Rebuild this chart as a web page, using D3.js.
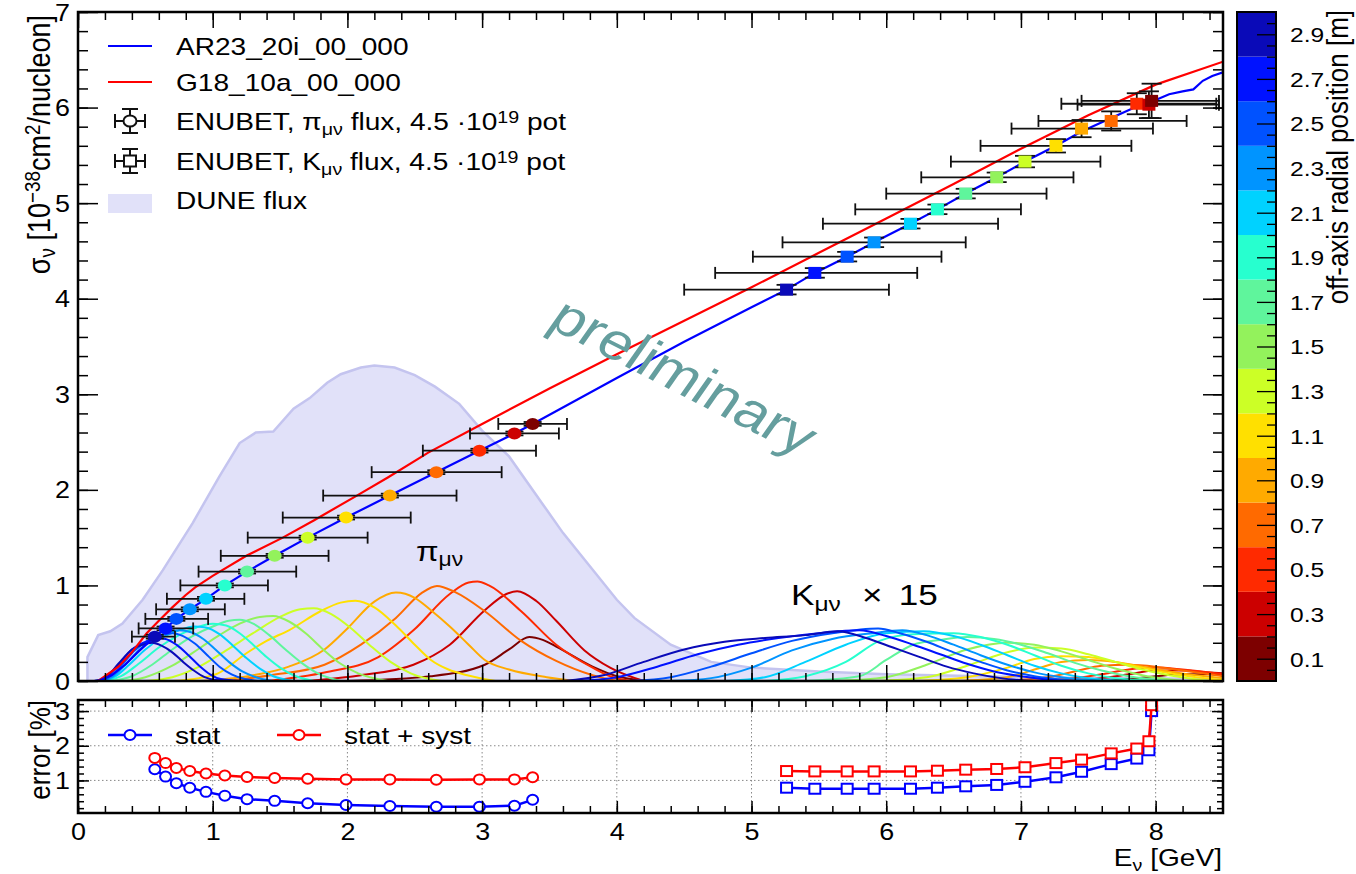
<!DOCTYPE html>
<html><head><meta charset="utf-8">
<script src="https://cdn.jsdelivr.net/npm/d3@7"></script>
<style>
html,body{margin:0;padding:0;background:#fff;}
svg{display:block;font-family:"Liberation Sans",Arial,Helvetica,sans-serif;}
</style></head><body>
<svg id="chart" width="1356" height="874"></svg>
<script>
// ---------- data ----------
// off-axis radial position bins [m] and their palette colours
const radialBins = [0.1,0.3,0.5,0.7,0.9,1.1,1.3,1.5,1.7,1.9,2.1,2.3,2.5,2.7,2.9];
const radialColors = ["#7d0000","#cc0000","#ff2a00","#ff6a00","#ffaa00","#ffe000","#ccff26",
  "#93f25c","#5ff59c","#27ffcf","#00d2ff","#0094ff","#0052ff","#0012ff","#0a0ab8"];

// ENUBET pi_mu_nu points (one per radial bin, outermost first)
const piRadial = [2.9,2.7,2.5,2.3,2.1,1.9,1.7,1.5,1.3,1.1,0.9,0.7,0.5,0.3,0.1];
const piE     = [0.57,0.65,0.73,0.83,0.95,1.09,1.255,1.46,1.705,1.99,2.315,2.66,2.98,3.24,3.375];
const piSigma = [0.464,0.55,0.65,0.75,0.86,1.0,1.145,1.31,1.50,1.71,1.94,2.185,2.41,2.59,2.69];
const piElo   = [0.40,0.45,0.50,0.58,0.66,0.76,0.895,1.06,1.26,1.52,1.82,2.18,2.56,2.91,3.12];
const piEhi   = [0.72,0.855,0.966,1.09,1.235,1.41,1.62,1.86,2.15,2.47,2.81,3.145,3.40,3.57,3.63];
const piSigErr= [0.02,0.02,0.02,0.02,0.02,0.02,0.02,0.02,0.02,0.02,0.02,0.02,0.02,0.02,0.02];
const piStatErr = [1.32,1.11,0.92,0.79,0.67,0.56,0.46,0.41,0.34,0.29,0.26,0.24,0.24,0.27,0.44];
const piTotErr  = [1.65,1.50,1.36,1.27,1.20,1.14,1.10,1.07,1.05,1.03,1.03,1.02,1.03,1.03,1.09];

// ENUBET K_mu_nu points
const kRadial = [2.9,2.7,2.5,2.3,2.1,1.9,1.7,1.5,1.3,1.1,0.9,0.7,0.5,0.3,0.1];
const kE     = [5.26,5.47,5.71,5.91,6.18,6.38,6.59,6.82,7.03,7.26,7.45,7.67,7.86,7.95,7.97];
const kSigma = [4.095,4.27,4.44,4.59,4.785,4.935,5.10,5.27,5.435,5.60,5.78,5.86,6.04,6.03,6.07];
const kElo   = [4.50,4.73,5.01,5.23,5.53,5.77,6.00,6.26,6.48,6.70,6.93,7.13,7.30,7.42,7.45];
const kEhi   = [6.02,6.23,6.41,6.59,6.83,7.00,7.19,7.39,7.59,7.82,7.98,8.23,8.45,8.47,8.47];
const kSigErr= [0.05,0.05,0.05,0.05,0.05,0.05,0.05,0.05,0.06,0.07,0.09,0.10,0.11,0.14,0.18];
const kStatErr = [0.79,0.76,0.76,0.76,0.76,0.79,0.83,0.87,0.96,1.09,1.25,1.47,1.63,1.87,3.00];
const kTotErr  = [1.27,1.26,1.26,1.26,1.26,1.28,1.31,1.33,1.38,1.50,1.60,1.78,1.92,2.13,3.17];

// GENIE cross-section models [E (GeV), sigma]
const ar23 = [[0.15,0],[0.25,0.06],[0.35,0.17],[0.45,0.31],[0.57,0.464],[0.65,0.55],[0.73,0.65],
  [0.83,0.75],[0.95,0.86],[1.09,1.0],[1.255,1.145],[1.46,1.31],[1.705,1.5],[1.99,1.71],[2.315,1.94],
  [2.66,2.185],[2.98,2.41],[3.24,2.59],[3.375,2.69],[4.0,3.17],[4.5,3.55],[5.0,3.91],[5.26,4.095],
  [5.47,4.27],[5.71,4.44],[5.91,4.59],[6.18,4.785],[6.38,4.935],[6.59,5.10],[6.82,5.27],[7.03,5.435],
  [7.26,5.60],[7.45,5.75],[7.67,5.89],[7.86,6.01],[8.0,6.08],[8.1,6.14],[8.2,6.17],[8.28,6.19],
  [8.35,6.28],[8.42,6.33],[8.5,6.37]];
const g18 = [[0.15,0],[0.3,0.15],[0.4,0.3],[0.51,0.5],[0.6,0.63],[0.7,0.77],[0.8,0.9],[0.87,0.98],
  [1.0,1.1],[1.25,1.31],[1.52,1.5],[1.75,1.68],[2.07,1.94],[2.3,2.13],[2.6,2.39],[3.0,2.69],[3.5,3.06],
  [4.0,3.42],[4.5,3.77],[5.0,4.12],[5.5,4.48],[6.0,4.84],[6.5,5.2],[7.0,5.57],[7.5,5.92],[8.0,6.24],[8.5,6.48]];

// DUNE flux shape (arbitrary normalisation)
const duneFlux = [[0.07,0],[0.07,0.25],[0.15,0.48],[0.24,0.52],[0.33,0.6],[0.48,0.85],[0.63,1.16],
  [0.85,1.65],[1.05,2.14],[1.2,2.49],[1.32,2.6],[1.45,2.61],[1.6,2.85],[1.72,2.96],[1.85,3.12],
  [1.95,3.21],[2.1,3.28],[2.2,3.30],[2.35,3.28],[2.5,3.2],[2.65,3.08],[2.83,2.9],[3.0,2.62],[3.2,2.35],
  [3.45,1.85],[3.6,1.55],[3.8,1.2],[4.0,0.85],[4.13,0.66],[4.4,0.38],[4.7,0.2],[5.0,0.14],[5.5,0.1],
  [6.0,0.07],[7.0,0.04],[8.5,0.02],[8.5,0]];

// pi_mu_nu flux per radial bin (0.1 m ... 2.9 m)
const pionFlux = [
  [[2.0,0],[2.62,0.05],[3.02,0.17],[3.2,0.33],[3.35,0.46],[3.45,0.43],[3.55,0.36],[3.82,0.15],[4.0,0.05],[4.25,0]],
  [[1.7,0],[2.1,0.06],[2.49,0.17],[2.76,0.38],[3.02,0.74],[3.18,0.91],[3.26,0.94],[3.4,0.84],[3.55,0.63],[3.76,0.32],[3.95,0.14],[4.2,0]],
  [[1.4,0],[1.83,0.09],[2.23,0.25],[2.49,0.53],[2.76,0.91],[2.9,1.03],[2.965,1.04],[3.05,1.0],[3.29,0.73],[3.55,0.38],[3.82,0.14],[3.95,0.05],[4.1,0]],
  [[1.1,0],[1.43,0.06],[1.83,0.17],[2.1,0.38],[2.36,0.66],[2.55,0.92],[2.665,0.995],[2.8,0.93],[3.02,0.73],[3.29,0.42],[3.55,0.21],[3.82,0.06],[4.0,0]],
  [[0.9,0],[1.26,0.05],[1.565,0.15],[1.83,0.33],[2.0,0.55],[2.2,0.83],[2.36,0.925],[2.5,0.87],[2.62,0.74],[2.76,0.57],[2.9,0.38],[3.02,0.22],[3.2,0.12],[3.48,0.04],[3.7,0]],
  [[0.7,0],[0.9,0.03],[1.04,0.08],[1.25,0.29],[1.4,0.42],[1.565,0.53],[1.8,0.73],[1.95,0.82],[2.06,0.84],[2.2,0.77],[2.36,0.58],[2.5,0.38],[2.62,0.22],[2.75,0.12],[2.89,0.06],[3.1,0]],
  [[0.5,0],[0.7,0.04],[0.9,0.15],[1.1,0.32],[1.3,0.5],[1.5,0.67],[1.65,0.75],[1.75,0.76],[1.88,0.7],[2.02,0.56],[2.17,0.37],[2.32,0.2],[2.47,0.08],[2.7,0]],
  [[0.35,0],[0.5,0.04],[0.7,0.16],[0.9,0.34],[1.05,0.48],[1.2,0.6],[1.35,0.67],[1.45,0.68],[1.57,0.62],[1.69,0.5],[1.82,0.33],[1.95,0.18],[2.08,0.08],[2.3,0]],
  [[0.25,0],[0.4,0.05],[0.55,0.17],[0.7,0.33],[0.85,0.47],[1.0,0.57],[1.12,0.63],[1.2,0.64],[1.3,0.6],[1.42,0.48],[1.54,0.33],[1.66,0.19],[1.78,0.08],[1.95,0]],
  [[0.2,0],[0.32,0.05],[0.45,0.18],[0.6,0.35],[0.75,0.48],[0.88,0.56],[1.0,0.6],[1.1,0.58],[1.2,0.5],[1.3,0.38],[1.4,0.25],[1.5,0.14],[1.6,0.06],[1.75,0]],
  [[0.18,0],[0.28,0.05],[0.38,0.17],[0.5,0.33],[0.62,0.45],[0.75,0.53],[0.86,0.57],[0.95,0.56],[1.05,0.49],[1.15,0.37],[1.25,0.24],[1.35,0.13],[1.45,0.05],[1.6,0]],
  [[0.16,0],[0.25,0.04],[0.35,0.17],[0.45,0.32],[0.55,0.43],[0.65,0.5],[0.75,0.53],[0.84,0.51],[0.93,0.44],[1.02,0.33],[1.12,0.2],[1.22,0.1],[1.32,0.04],[1.45,0]],
  [[0.14,0],[0.22,0.03],[0.32,0.16],[0.42,0.32],[0.52,0.42],[0.62,0.48],[0.7,0.5],[0.78,0.47],[0.87,0.39],[0.96,0.27],[1.05,0.15],[1.14,0.07],[1.24,0.02],[1.35,0]],
  [[0.12,0],[0.2,0.03],[0.3,0.17],[0.4,0.33],[0.5,0.41],[0.58,0.45],[0.65,0.44],[0.73,0.38],[0.82,0.27],[0.9,0.16],[0.98,0.07],[1.06,0.02],[1.2,0]],
  [[0.12,0],[0.2,0.03],[0.3,0.18],[0.4,0.33],[0.48,0.38],[0.55,0.4],[0.62,0.37],[0.7,0.3],[0.78,0.2],[0.86,0.11],[0.94,0.04],[1.02,0.01],[1.15,0]]
];

// K_mu_nu flux per radial bin (scaled x15), 0.1 m ... 2.9 m
const kaonFlux = [
  [[7.4,0],[7.8,0.02],[8.0,0.05],[8.2,0.07],[8.4,0.07],[8.5,0.06]],
  [[7.2,0],[7.6,0.03],[7.8,0.07],[8.0,0.11],[8.2,0.11],[8.4,0.09],[8.5,0.08]],
  [[7.0,0],[7.4,0.03],[7.6,0.07],[7.8,0.12],[8.0,0.14],[8.2,0.12],[8.4,0.09],[8.5,0.07]],
  [[6.8,0],[7.2,0.04],[7.4,0.1],[7.6,0.16],[7.8,0.17],[8.0,0.15],[8.2,0.11],[8.4,0.07],[8.5,0.05]],
  [[6.5,0],[6.9,0.04],[7.1,0.12],[7.3,0.2],[7.5,0.22],[7.7,0.2],[7.9,0.15],[8.1,0.1],[8.3,0.06],[8.5,0.03]],
  [[6.2,0],[6.6,0.04],[6.9,0.14],[7.1,0.23],[7.3,0.26],[7.5,0.25],[7.7,0.2],[7.9,0.14],[8.1,0.08],[8.3,0.04],[8.5,0.01]],
  [[5.9,0],[6.3,0.04],[6.6,0.16],[6.9,0.3],[7.1,0.35],[7.3,0.34],[7.5,0.28],[7.7,0.2],[7.9,0.12],[8.1,0.06],[8.4,0]],
  [[5.6,0],[6.0,0.04],[6.3,0.17],[6.6,0.33],[6.9,0.4],[7.1,0.38],[7.3,0.31],[7.5,0.22],[7.7,0.13],[7.9,0.06],[8.2,0]],
  [[5.4,0],[5.8,0.05],[6.0,0.22],[6.2,0.38],[6.4,0.43],[6.6,0.46],[6.8,0.44],[7.0,0.38],[7.2,0.29],[7.4,0.19],[7.6,0.11],[7.8,0.05],[8.1,0]],
  [[5.1,0],[5.4,0.05],[5.7,0.2],[5.95,0.42],[6.2,0.49],[6.5,0.5],[6.7,0.46],[6.9,0.38],[7.1,0.27],[7.3,0.16],[7.5,0.08],[7.7,0.03],[8.0,0]],
  [[4.8,0],[5.1,0.04],[5.4,0.2],[5.7,0.38],[6.0,0.5],[6.28,0.52],[6.5,0.47],[6.7,0.38],[6.9,0.27],[7.1,0.16],[7.3,0.08],[7.5,0.03],[7.8,0]],
  [[4.4,0],[4.7,0.03],[5.0,0.14],[5.3,0.32],[5.6,0.44],[5.9,0.5],[6.12,0.53],[6.3,0.48],[6.5,0.38],[6.7,0.27],[6.9,0.17],[7.1,0.09],[7.3,0.04],[7.6,0]],
  [[4.1,0],[4.4,0.04],[4.7,0.15],[5.0,0.29],[5.3,0.42],[5.6,0.5],[5.94,0.55],[6.1,0.5],[6.3,0.41],[6.5,0.3],[6.7,0.2],[6.9,0.11],[7.1,0.05],[7.4,0]],
  [[3.7,0],[4.0,0.04],[4.3,0.15],[4.6,0.28],[4.9,0.38],[5.2,0.45],[5.5,0.5],[5.8,0.53],[6.0,0.47],[6.2,0.38],[6.4,0.28],[6.6,0.18],[6.8,0.1],[7.0,0.05],[7.3,0]],
  [[3.6,0],[3.9,0.06],[4.2,0.2],[4.5,0.33],[4.8,0.41],[5.1,0.45],[5.4,0.48],[5.64,0.52],[5.85,0.45],[6.05,0.35],[6.25,0.25],[6.45,0.15],[6.65,0.08],[6.85,0.03],[7.1,0]]
];

const xTicksMajor = [0,1,2,3,4,5,6,7,8];
const yTicksMain = [0,1,2,3,4,5,6,7];
const yTicksRatio = [1,2,3];

// ---------- layout ----------
const SX = 1.17;               // horizontal glyph stretch used by all text
const svg = d3.select("#chart");
const L = 78, R = 1223, T = 12, B = 681, BT = 700, BB = 813;
const x  = d3.scaleLinear([0, 8.5], [L, R]);
const y  = d3.scaleLinear([0, 7], [B, T]);
const yb = d3.scaleLinear([0.06, 3.32], [BB, BT]);
const z  = d3.scaleLinear([0, 3], [B, T]);
const zColor = d3.scaleQuantize([0, 3], radialColors);
const range = (a, b, s) => d3.range(Math.round((b - a) / s) + 1).map(i => +(a + i * s).toFixed(4));

function label(parent, px, py, opts = {}) {
  const t = parent.append("text")
    .attr("transform", `translate(${px},${py}) scale(${SX},1)` + (opts.rotate ? ` rotate(${opts.rotate})` : ""))
    .attr("font-size", opts.size || 23)
    .attr("text-anchor", opts.anchor || "start")
    .attr("fill", opts.fill || "#000");
  return t;
}
function richText(t, parts) {
  parts.forEach(p => {
    const s = t.append("tspan").text(p.t);
    if (p.sub) s.attr("font-size", "70%").attr("baseline-shift", "-25%");
    if (p.sup) s.attr("font-size", "70%").attr("baseline-shift", "45%");
    if (p.dx) s.attr("dx", p.dx);
  });
  return t;
}

const defs = svg.append("defs");
defs.append("clipPath").attr("id", "clipMain").append("rect")
  .attr("x", L).attr("y", T).attr("width", R - L).attr("height", B - T);
defs.append("clipPath").attr("id", "clipRatio").append("rect")
  .attr("x", L).attr("y", BT).attr("width", R - L).attr("height", BB - BT);

// ---------- upper panel ----------
const main = svg.append("g").attr("clip-path", "url(#clipMain)");

const area = d3.area().x(d => x(d[0])).y0(y(0)).y1(d => y(d[1]));
main.append("path").datum(duneFlux).attr("d", area)
  .attr("fill", "#e1e1f9").attr("stroke", "#c4c4ef").attr("stroke-width", 2.5);

const fluxLine = d3.line().x(d => x(d[0])).y(d => y(d[1])).curve(d3.curveMonotoneX);
pionFlux.forEach((c, i) => main.append("path").datum(c).attr("d", fluxLine)
  .attr("fill", "none").attr("stroke", zColor(radialBins[i])).attr("stroke-width", 2));
kaonFlux.forEach((c, i) => main.append("path").datum(c).attr("d", fluxLine)
  .attr("fill", "none").attr("stroke", zColor(radialBins[i])).attr("stroke-width", 2));

const xsLine = d3.line().x(d => x(d[0])).y(d => y(d[1]));
main.append("path").datum(g18).attr("d", xsLine).attr("fill", "none").attr("stroke", "#ff0000").attr("stroke-width", 2.2);
main.append("path").datum(ar23).attr("d", xsLine).attr("fill", "none").attr("stroke", "#0000ff").attr("stroke-width", 2.2);

function errorBars(g, E, S, Elo, Ehi, Serr, capX, capY) {
  E.forEach((e, i) => {
    const cx = x(e), cy = y(S[i]);
    const gg = g.append("g").attr("stroke", "#111").attr("stroke-width", 1.8);
    gg.append("line").attr("x1", x(Elo[i])).attr("x2", x(Ehi[i])).attr("y1", cy).attr("y2", cy);
    gg.append("line").attr("x1", x(Elo[i])).attr("x2", x(Elo[i])).attr("y1", cy - capX).attr("y2", cy + capX);
    gg.append("line").attr("x1", x(Ehi[i])).attr("x2", x(Ehi[i])).attr("y1", cy - capX).attr("y2", cy + capX);
    const y1 = y(S[i] + Serr[i]), y2 = y(S[i] - Serr[i]);
    gg.append("line").attr("x1", cx).attr("x2", cx).attr("y1", y1).attr("y2", y2);
    gg.append("line").attr("x1", cx - capY).attr("x2", cx + capY).attr("y1", y1).attr("y2", y1);
    gg.append("line").attr("x1", cx - capY).attr("x2", cx + capY).attr("y1", y2).attr("y2", y2);
  });
}
const pts = svg.append("g").attr("clip-path", "url(#clipMain)");
errorBars(pts, piE, piSigma, piElo, piEhi, piSigErr, 6, 9);
pts.selectAll(".pim").data(piE).join("ellipse")
  .attr("cx", d => x(d)).attr("cy", (d, i) => y(piSigma[i]))
  .attr("rx", 7).attr("ry", 6).attr("fill", (d, i) => zColor(piRadial[i]));
errorBars(pts, kE, kSigma, kElo, kEhi, kSigErr, 6, 10);
pts.selectAll(".km").data(kE).join("rect")
  .attr("x", d => x(d) - 6.5).attr("y", (d, i) => y(kSigma[i]) - 6)
  .attr("width", 13).attr("height", 12).attr("fill", (d, i) => zColor(kRadial[i]));

// annotations
richText(label(svg, 416, 561, {size: 28}), [{t: "π"}, {t: "μν", sub: true}]);
richText(label(svg, 791, 605, {size: 30}),
  [{t: "K"}, {t: "μν", sub: true}, {t: "×", dx: 18}, {t: "15", dx: 14}]);
label(svg, 683, 378, {size: 52, anchor: "middle", rotate: 31, fill: "#659e9e"})
  .attr("dy", "0.3em").text("preliminary");

// legend
const lg = svg.append("g");
const legY = [46, 82, 121, 161, 204];
lg.append("line").attr("x1", 108).attr("x2", 152).attr("y1", legY[0]).attr("y2", legY[0]).attr("stroke", "#0000ff").attr("stroke-width", 2.2);
lg.append("line").attr("x1", 108).attr("x2", 152).attr("y1", legY[1]).attr("y2", legY[1]).attr("stroke", "#ff0000").attr("stroke-width", 2.2);
[2, 3].forEach(k => {
  const cy = legY[k], cx = 130;
  const g = lg.append("g").attr("stroke", "#111").attr("stroke-width", 2).attr("fill", "none");
  g.append("line").attr("x1", cx - 15).attr("x2", cx + 15).attr("y1", cy).attr("y2", cy);
  g.append("line").attr("x1", cx - 15).attr("x2", cx - 15).attr("y1", cy - 7).attr("y2", cy + 7);
  g.append("line").attr("x1", cx + 15).attr("x2", cx + 15).attr("y1", cy - 7).attr("y2", cy + 7);
  g.append("line").attr("x1", cx).attr("x2", cx).attr("y1", cy - 12).attr("y2", cy + 12);
  g.append("line").attr("x1", cx - 8).attr("x2", cx + 8).attr("y1", cy - 12).attr("y2", cy - 12);
  g.append("line").attr("x1", cx - 8).attr("x2", cx + 8).attr("y1", cy + 12).attr("y2", cy + 12);
  if (k === 2) g.append("ellipse").attr("cx", cx).attr("cy", cy).attr("rx", 6.5).attr("ry", 5.5).attr("fill", "#fff");
  else g.append("rect").attr("x", cx - 6).attr("y", cy - 5.5).attr("width", 12).attr("height", 11).attr("fill", "#fff");
});
lg.append("rect").attr("x", 108).attr("y", 194).attr("width", 44).attr("height", 19).attr("fill", "#e1e1f9");
label(lg, 176, legY[0] + 9, {size: 24}).text("AR23_20i_00_000");
label(lg, 176, legY[1] + 9, {size: 24}).text("G18_10a_00_000");
richText(label(lg, 176, legY[2] + 9, {size: 24}), [{t: "ENUBET, π"}, {t: "μν", sub: true}, {t: " flux, 4.5 ·10"}, {t: "19", sup: true}, {t: " pot"}]);
richText(label(lg, 176, legY[3] + 9, {size: 24}), [{t: "ENUBET, K"}, {t: "μν", sub: true}, {t: " flux, 4.5 ·10"}, {t: "19", sup: true}, {t: " pot"}]);
label(lg, 176, legY[4] + 5, {size: 24}).text("DUNE flux");

// ---------- lower panel ----------
const grid = svg.append("g").attr("stroke", "#888").attr("stroke-width", 1).attr("stroke-dasharray", "1.5,2.5");
xTicksMajor.filter(v => v > 0).forEach(v => grid.append("line").attr("x1", x(v)).attr("x2", x(v)).attr("y1", BT).attr("y2", BB));
yTicksRatio.forEach(v => grid.append("line").attr("x1", L).attr("x2", R).attr("y1", yb(v)).attr("y2", yb(v)));

const ratio = svg.append("g").attr("clip-path", "url(#clipRatio)");
const rLine = d3.line().x(d => x(d[0])).y(d => yb(d[1]));
function ratioSeries(E, V, color, square) {
  const d = E.map((e, i) => [e, V[i]]);
  ratio.append("path").datum(d).attr("d", rLine).attr("fill", "none").attr("stroke", color).attr("stroke-width", 2.5);
  d.forEach(p => {
    if (square) ratio.append("rect").attr("x", x(p[0]) - 5.5).attr("y", yb(p[1]) - 5).attr("width", 11).attr("height", 10)
      .attr("fill", "#fff").attr("stroke", color).attr("stroke-width", 2);
    else ratio.append("ellipse").attr("cx", x(p[0])).attr("cy", yb(p[1])).attr("rx", 5.5).attr("ry", 5)
      .attr("fill", "#fff").attr("stroke", color).attr("stroke-width", 2);
  });
}
ratioSeries(piE, piStatErr, "#0000ff", false);
ratioSeries(piE, piTotErr, "#ff0000", false);
ratioSeries(kE, kStatErr, "#0000ff", true);
ratioSeries(kE, kTotErr, "#ff0000", true);

// ratio legend
[[108, "#0000ff", "stat"], [277, "#ff0000", "stat + syst"]].forEach(([lx, c, txt]) => {
  svg.append("line").attr("x1", lx).attr("x2", lx + 44).attr("y1", 735).attr("y2", 735).attr("stroke", c).attr("stroke-width", 2.5);
  svg.append("ellipse").attr("cx", lx + 22).attr("cy", 735).attr("rx", 5.5).attr("ry", 5).attr("fill", "#fff").attr("stroke", c).attr("stroke-width", 2);
  label(svg, lx + 67, 744, {size: 24}).text(txt);
});

// ---------- axes / frames ----------
function ticks(g, axisFn, scale, major, minor, lenMaj, lenMin, fmt) {
  g.call(axisFn(scale).tickValues(minor).tickSize(-lenMin).tickFormat(""));
  const gm = g.append("g");
  gm.call(axisFn(scale).tickValues(major).tickSize(-lenMaj).tickFormat(fmt || ""));
  g.selectAll(".domain").remove();
  g.selectAll("line").attr("stroke", "#000").attr("stroke-width", 1.5);
  return gm;
}
const xMinor = range(0, 8.4, 0.2);
const yMinor = range(0, 7, 0.2);
const ybMinor = range(0.2, 3.2, 0.2);
// upper panel ticks
ticks(svg.append("g").attr("transform", `translate(0,${B})`), d3.axisBottom, x, xTicksMajor, xMinor, 16, 8);
ticks(svg.append("g").attr("transform", `translate(0,${T})`), d3.axisTop, x, xTicksMajor, xMinor, 16, 8);
const yl = ticks(svg.append("g").attr("transform", `translate(${L},0)`), d3.axisLeft, y, yTicksMain, yMinor, 20, 10, d3.format("d"));
ticks(svg.append("g").attr("transform", `translate(${R},0)`), d3.axisRight, y, yTicksMain, yMinor, 20, 10);
// lower panel ticks
const xb = ticks(svg.append("g").attr("transform", `translate(0,${BB})`), d3.axisBottom, x, xTicksMajor, xMinor, 12, 7, d3.format("d"));
ticks(svg.append("g").attr("transform", `translate(0,${BT})`), d3.axisTop, x, xTicksMajor, xMinor, 12, 7);
const ybl = ticks(svg.append("g").attr("transform", `translate(${L},0)`), d3.axisLeft, yb, yTicksRatio, ybMinor, 11, 6, d3.format("d"));
ticks(svg.append("g").attr("transform", `translate(${R},0)`), d3.axisRight, yb, yTicksRatio, ybMinor, 11, 6);

function styleLabels(g, size, dx, dy) {
  g.selectAll("text").each(function () {
    const t = d3.select(this), tx = +t.attr("x") || 0, ty = +t.attr("y") || 0;
    t.attr("font-size", size).attr("fill", "#000").attr("font-family", null)
     .attr("transform", `translate(${tx + dx},${ty + dy}) scale(${SX},1)`).attr("x", 0).attr("y", 0);
  });
}
yl.selectAll("text").attr("dy", "0.35em"); styleLabels(yl, 23, -5, 0);
ybl.selectAll("text").attr("dy", "0.35em"); styleLabels(ybl, 23, -5, 0);
xb.selectAll("text").attr("dy", "0.71em"); styleLabels(xb, 23, 0, 8);
d3.selectAll("g[font-family]").attr("font-family", null);

svg.append("rect").attr("x", L).attr("y", T).attr("width", R - L).attr("height", B - T)
  .attr("fill", "none").attr("stroke", "#000").attr("stroke-width", 2.5);
svg.append("rect").attr("x", L).attr("y", BT).attr("width", R - L).attr("height", BB - BT)
  .attr("fill", "none").attr("stroke", "#000").attr("stroke-width", 2.5);

// axis titles
richText(label(svg, 50, 15, {size: 27, anchor: "end", rotate: -90}),
  [{t: "σ"}, {t: "ν", sub: true}, {t: " [10"}, {t: "−38", sup: true}, {t: "cm"}, {t: "2", sup: true}, {t: "/nucleon]"}]);
label(svg, 50, 700, {size: 26, anchor: "end", rotate: -90}).text("error [%]");
richText(label(svg, 1222, 866, {size: 24, anchor: "end"}), [{t: "E"}, {t: "ν", sub: true}, {t: " [GeV]"}]);

// ---------- colour bar ----------
const CB0 = 1237, CB1 = 1276;
const cb = svg.append("g");
radialBins.forEach((v, i) => cb.append("rect").attr("x", CB0).attr("width", CB1 - CB0)
  .attr("y", z(v + 0.1)).attr("height", z(v - 0.1) - z(v + 0.1)).attr("fill", radialColors[i]));
const cbAxis = cb.append("g").attr("transform", `translate(${CB1},0)`);
cbAxis.call(d3.axisRight(z).tickValues(range(0.05, 2.95, 0.05).filter(v => Math.abs((v * 10) % 2 - 1) > 0.01)).tickSize(-9).tickFormat(""));
const cbMaj = cbAxis.append("g").call(d3.axisRight(z).tickValues(radialBins).tickSize(-19).tickPadding(7).tickFormat(d3.format(".1f")));
cbAxis.selectAll(".domain").remove();
cbAxis.selectAll("line").attr("stroke", "#000").attr("stroke-width", 1.3);
cbMaj.selectAll("text").attr("dy", "0.35em");
styleLabels(cbMaj, 21, 7, 0);
cbMaj.attr("font-family", null);
cb.append("rect").attr("x", CB0).attr("y", T).attr("width", CB1 - CB0).attr("height", B - T)
  .attr("fill", "none").attr("stroke", "#000").attr("stroke-width", 2);
label(svg, 1348, 10, {size: 26, anchor: "end", rotate: -90}).text("off-axis radial position [m]");
</script></body></html>
